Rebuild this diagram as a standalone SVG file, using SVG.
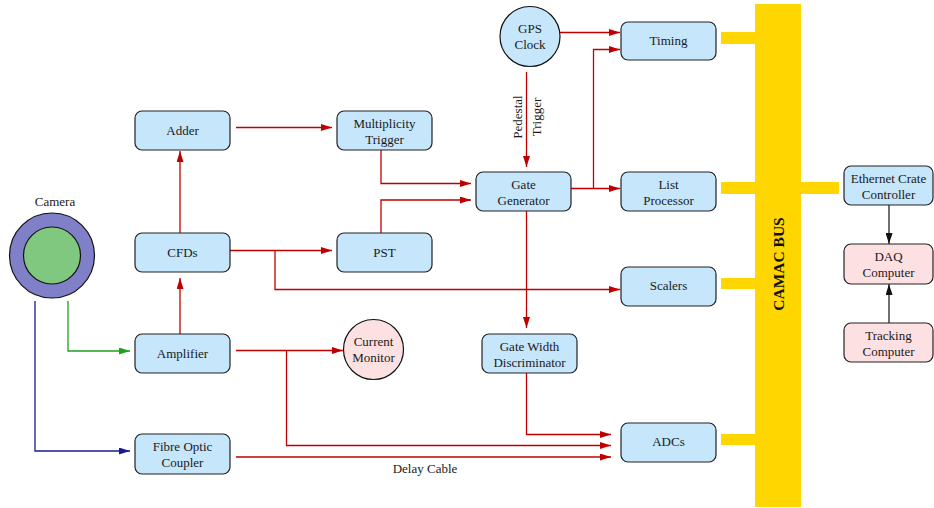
<svg xmlns="http://www.w3.org/2000/svg" width="934" height="508" viewBox="0 0 934 508" font-family="'Liberation Serif', 'DejaVu Serif', serif">
  <style>
    text { font-family: 'Liberation Serif', 'DejaVu Serif', serif; font-size: 13px; fill: #1a1a1a; text-anchor: middle; }
    .box { fill: #c6e6fb; stroke: #222; stroke-width: 1.2; }
    .pink { fill: #fde0e1; stroke: #222; stroke-width: 1.2; }
    .bus { fill: #ffd600; }
    .sig { fill: none; stroke: #c00000; stroke-width: 1.3; marker-end: url(#arRed); }
    .green { fill: none; stroke: #1ea01e; stroke-width: 1.3; marker-end: url(#arGreen); }
    .blue { fill: none; stroke: #1a1a96; stroke-width: 1.3; marker-end: url(#arBlue); }
    .black { fill: none; stroke: #111; stroke-width: 1.2; marker-end: url(#arBlack); }
    .busLabel { font-weight: bold; font-size: 15.5px; fill: #111; }
  </style>
  <defs>
    <marker id="arRed" viewBox="0 0 11 7" refX="11" refY="3.5" markerWidth="11" markerHeight="7" markerUnits="userSpaceOnUse" orient="auto">
      <path d="M0,0 L11,3.5 L0,7 z" fill="#c00000"/>
    </marker>
    <marker id="arGreen" viewBox="0 0 11 7" refX="11" refY="3.5" markerWidth="11" markerHeight="7" markerUnits="userSpaceOnUse" orient="auto">
      <path d="M0,0 L11,3.5 L0,7 z" fill="#1ea01e"/>
    </marker>
    <marker id="arBlue" viewBox="0 0 11 7" refX="11" refY="3.5" markerWidth="11" markerHeight="7" markerUnits="userSpaceOnUse" orient="auto">
      <path d="M0,0 L11,3.5 L0,7 z" fill="#1a1a96"/>
    </marker>
    <marker id="arBlack" viewBox="0 0 11 7" refX="11" refY="3.5" markerWidth="11" markerHeight="7" markerUnits="userSpaceOnUse" orient="auto">
      <path d="M0,0 L11,3.5 L0,7 z" fill="#111"/>
    </marker>
  </defs>

  <!-- CAMAC bus and its module stubs -->
  <g id="camac-bus">
    <rect class="bus" x="755" y="4" width="46" height="503"/>
    <rect class="bus" x="721" y="32" width="34" height="12"/>
    <rect class="bus" x="721" y="182" width="34" height="12"/>
    <rect class="bus" x="721" y="278" width="34" height="11"/>
    <rect class="bus" x="721" y="434" width="34" height="11"/>
    <rect class="bus" x="801" y="182" width="38" height="12"/>
    <text class="busLabel" transform="translate(783.5,264) rotate(-90)">CAMAC BUS</text>
  </g>

  <!-- connectors -->
  <g id="connectors">
    <path class="sig" d="M236,127.5 H332"/>
    <path class="sig" d="M180,233 V151"/>
    <path class="sig" d="M230,250.5 H332"/>
    <path class="sig" d="M275,250.5 V289.5 H620"/>
    <path class="sig" d="M180,334 V278"/>
    <path class="green" d="M68,301 V351 H130"/>
    <path class="blue" d="M35,301 V451 H130"/>
    <path class="sig" d="M236,350.5 H343"/>
    <path class="sig" d="M286.5,350.5 V445.5 H611"/>
    <path class="sig" d="M236,457 H611"/>
    <path class="sig" d="M381,150 V183.5 H471"/>
    <path class="sig" d="M381,233 V200 H471"/>
    <path class="sig" d="M526.5,72 V167"/>
    <path class="sig" d="M560,32.5 H620"/>
    <path class="sig" d="M571,188.5 H620"/>
    <path class="sig" d="M593.5,188.5 V49.5 H620"/>
    <path class="sig" d="M526.5,211 V328"/>
    <path class="sig" d="M526.5,373 V434.5 H611"/>
    <path class="black" d="M889,205 V244"/>
    <path class="black" d="M889,323 V284"/>
    <text transform="translate(522,117) rotate(-90)">Pedestal</text>
    <text transform="translate(541,117) rotate(-90)">Trigger</text>
    <text x="425" y="473">Delay Cable</text>
  </g>

  <!-- nodes -->
  <g id="camera">
    <text x="55" y="206">Camera</text>
    <circle cx="52" cy="255.5" r="42.5" fill="#8080c8" stroke="#111" stroke-width="1.2"/>
    <circle cx="52" cy="255.5" r="28.5" fill="#80c880" stroke="#111" stroke-width="1.2"/>
  </g>
  <g id="adder">
    <rect class="box" x="135" y="111" width="95" height="39" rx="7"/>
    <text x="182.5" y="135">Adder</text>
  </g>
  <g id="multiplicity-trigger">
    <rect class="box" x="337" y="111" width="95" height="39" rx="7"/>
    <text x="384.5" y="128">Multiplicity</text>
    <text x="384.5" y="144">Trigger</text>
  </g>
  <g id="cfds">
    <rect class="box" x="135" y="233" width="95" height="39" rx="7"/>
    <text x="182.5" y="257">CFDs</text>
  </g>
  <g id="pst">
    <rect class="box" x="337" y="233" width="95" height="39" rx="7"/>
    <text x="384.5" y="257">PST</text>
  </g>
  <g id="amplifier">
    <rect class="box" x="135" y="334" width="95" height="39" rx="7"/>
    <text x="182.5" y="358">Amplifier</text>
  </g>
  <g id="fibre-optic-coupler">
    <rect class="box" x="135" y="434" width="95" height="40" rx="7"/>
    <text x="182.5" y="451">Fibre Optic</text>
    <text x="182.5" y="467">Coupler</text>
  </g>
  <g id="current-monitor">
    <circle cx="373.5" cy="349.5" r="30" fill="#fde0e1" stroke="#111" stroke-width="1.2"/>
    <text x="373.5" y="346">Current</text>
    <text x="373.5" y="362">Monitor</text>
  </g>
  <g id="gps-clock">
    <circle cx="530" cy="36.5" r="30" fill="#c6e6fb" stroke="#111" stroke-width="1.2"/>
    <text x="530" y="33">GPS</text>
    <text x="530" y="49">Clock</text>
  </g>
  <g id="gate-generator">
    <rect class="box" x="476" y="172" width="95" height="39" rx="7"/>
    <text x="523.5" y="188.5">Gate</text>
    <text x="523.5" y="205">Generator</text>
  </g>
  <g id="gate-width-discriminator">
    <rect class="box" x="482" y="334" width="95" height="39" rx="7"/>
    <text x="529.5" y="351">Gate Width</text>
    <text x="529.5" y="367">Discriminator</text>
  </g>
  <g id="timing">
    <rect class="box" x="621" y="22" width="95" height="38" rx="7"/>
    <text x="668.5" y="45">Timing</text>
  </g>
  <g id="list-processor">
    <rect class="box" x="621" y="172" width="95" height="39" rx="7"/>
    <text x="668.5" y="189">List</text>
    <text x="668.5" y="205">Processor</text>
  </g>
  <g id="scalers">
    <rect class="box" x="621" y="267" width="95" height="39" rx="7"/>
    <text x="668.5" y="290">Scalers</text>
  </g>
  <g id="adcs">
    <rect class="box" x="621" y="423" width="95" height="39" rx="7"/>
    <text x="668.5" y="446">ADCs</text>
  </g>
  <g id="ethernet-crate-controller">
    <rect class="box" x="844" y="166" width="89" height="39" rx="7"/>
    <text x="888.5" y="183">Ethernet Crate</text>
    <text x="888.5" y="199">Controller</text>
  </g>
  <g id="daq-computer">
    <rect class="pink" x="844" y="244" width="89" height="40" rx="7"/>
    <text x="888.5" y="261">DAQ</text>
    <text x="888.5" y="277">Computer</text>
  </g>
  <g id="tracking-computer">
    <rect class="pink" x="844" y="323" width="89" height="39" rx="7"/>
    <text x="888.5" y="340">Tracking</text>
    <text x="888.5" y="356">Computer</text>
  </g>
</svg>
